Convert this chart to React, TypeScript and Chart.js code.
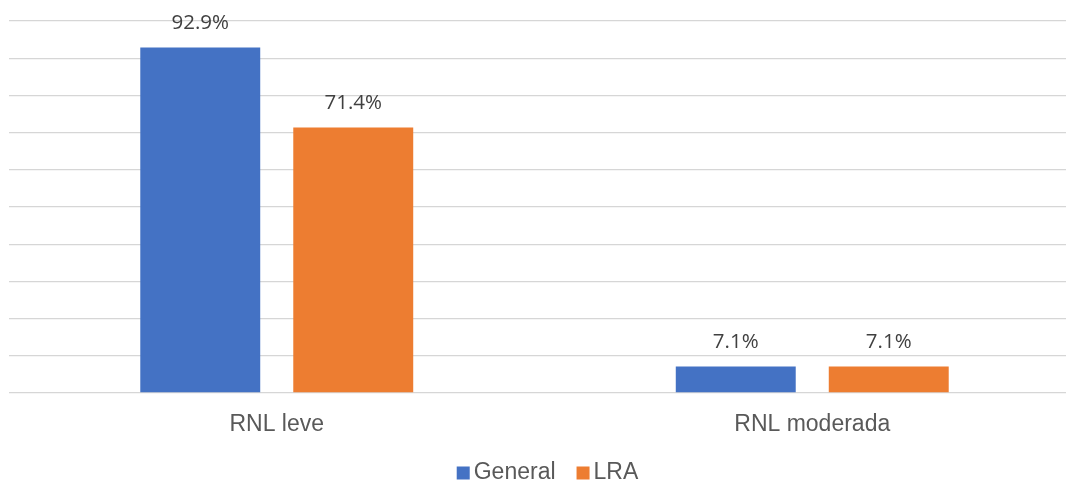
import React, { useEffect, useRef } from "react";
import { Chart, registerables } from "chart.js";

Chart.register(...registerables);

const categories = ["RNL leve", "RNL moderada"];
const seriesNames = ["General", "LRA"];
const generalValues = [92.9, 7.1];
const lraValues = [71.4, 7.1];
const seriesColors = ["#4472C4", "#ED7D31"];

const LABEL_FONT = "'Open Sans', sans-serif";
const AXIS_FONT = "'Liberation Sans', Arial, sans-serif";

// Percentage labels above each bar
const valueLabels = {
  id: "valueLabels",
  afterDatasetsDraw(chart: any) {
    const ctx = chart.ctx;
    ctx.save();
    ctx.font = `20.5px ${LABEL_FONT}`;
    ctx.fillStyle = "#404040";
    ctx.textAlign = "center";
    ctx.textBaseline = "alphabetic";
    chart.data.datasets.forEach((ds: any, di: number) => {
      const meta = chart.getDatasetMeta(di);
      meta.data.forEach((bar: any, i: number) => {
        const v = ds.data[i];
        ctx.fillText(`${v.toFixed(1)}%`, bar.x, bar.y - 18.5);
      });
    });
    ctx.restore();
  },
};

// Compact legend centred under the plot
const bottomLegend = {
  id: "bottomLegend",
  afterDraw(chart: any) {
    const ctx = chart.ctx;
    const area = chart.chartArea;
    ctx.save();
    ctx.font = `23px ${AXIS_FONT}`;
    ctx.textBaseline = "middle";
    ctx.textAlign = "left";
    const box = 13;
    const gap = 4;
    const itemGap = 21;
    const items = chart.data.datasets.map((ds: any) => ({
      label: ds.label,
      color: ds.backgroundColor,
      w: box + gap + ctx.measureText(ds.label).width,
    }));
    const total =
      items.reduce((s: number, it: any) => s + it.w, 0) + itemGap * (items.length - 1);
    let x = (area.left + area.right) / 2 - total / 2 + 3;
    const cy = 473;
    items.forEach((it: any) => {
      ctx.fillStyle = it.color;
      ctx.fillRect(x, cy - box / 2, box, box);
      ctx.fillStyle = "#595959";
      ctx.fillText(it.label, x + box + gap, cy);
      x += it.w + itemGap;
    });
    ctx.restore();
  },
};

export default function App() {
  const canvasRef = useRef<HTMLCanvasElement | null>(null);

  useEffect(() => {
    document.body.style.margin = "0";
    document.body.style.overflow = "hidden";
    document.documentElement.style.overflow = "hidden";
    const canvas = canvasRef.current;
    if (!canvas) return;
    const chart = new Chart(canvas, {
      type: "bar",
      data: {
        labels: categories,
        datasets: [
          {
            label: seriesNames[0],
            data: generalValues,
            backgroundColor: seriesColors[0],
            categoryPercentage: 0.5714,
            barPercentage: 0.784,
          },
          {
            label: seriesNames[1],
            data: lraValues,
            backgroundColor: seriesColors[1],
            categoryPercentage: 0.5714,
            barPercentage: 0.784,
          },
        ],
      },
      options: {
        responsive: false,
        animation: false,
        layout: { padding: { left: 9, right: 0, top: 21, bottom: 0 } },
        plugins: {
          legend: { display: false },
          tooltip: { enabled: false },
        },
        scales: {
          x: {
            grid: { display: false },
            border: { display: false },
            ticks: {
              font: { family: AXIS_FONT, size: 23 },
              color: "#595959",
              padding: 10,
            },
            afterFit(scale: any) {
              scale.height = 90;
            },
          },
          y: {
            min: 0,
            max: 100,
            ticks: { display: false, stepSize: 10 },
            grid: { color: "#d6d6d6", lineWidth: 1.3, drawTicks: false },
            border: { display: false },
            afterFit(scale: any) {
              scale.width = 0;
            },
          },
        },
      },
      plugins: [valueLabels, bottomLegend],
    });
    return () => chart.destroy();
  }, []);

  return (
    <div style={{ width: 1080, height: 483, overflow: "hidden", background: "#fff" }}>
      <canvas ref={canvasRef} width={1080} height={483} style={{ display: "block" }} />
    </div>
  );
}
